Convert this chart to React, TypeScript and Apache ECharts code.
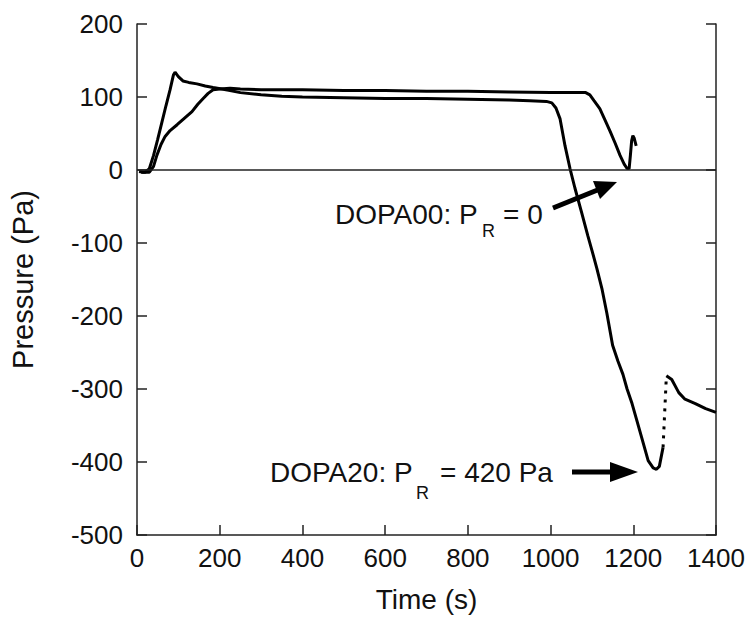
import React, { useEffect, useRef } from "react";
import * as echarts from "echarts";

// DOPA00 (P_R = 0)
const dopa00Time = [5, 15, 30, 40, 48, 58, 68, 80, 97, 115, 133, 147, 160, 172, 184, 200, 225, 250, 300, 400, 500, 600, 700, 800, 900, 1000, 1050, 1085, 1095, 1105, 1119, 1132, 1144, 1156, 1168, 1178, 1185, 1190, 1193, 1196, 1199, 1202, 1207];
const dopa00Values = [-2, -3, -3, 5, 20, 35, 46, 54, 62, 71, 80, 90, 98, 105, 110, 111, 112, 111, 110, 110, 109, 109, 108, 108, 107, 106, 106, 106, 103, 95, 84, 68, 53, 37, 20, 8, 2, 2, 20, 40, 47, 44, 33];

// DOPA20 (P_R = 420 Pa), before the jump
const dopa20Time = [10, 20, 30, 40, 50, 60, 70, 80, 88, 92, 100, 111, 125, 145, 165, 184, 205, 225, 250, 300, 350, 400, 500, 600, 700, 800, 900, 950, 990, 1003, 1013, 1023, 1035, 1047, 1059, 1075, 1090, 1100, 1112, 1124, 1136, 1150, 1163, 1175, 1185, 1197, 1207, 1220, 1236, 1248, 1256, 1263, 1272];
const dopa20Values = [-3, -3, 2, 20, 42, 65, 88, 110, 130, 134, 128, 122, 120, 118, 115, 113, 111, 109, 106, 103, 101, 100, 99, 98, 98, 97, 96, 95, 94, 92, 85, 70, 33, 2, -25, -58, -90, -110, -135, -162, -196, -240, -262, -280, -300, -320, -340, -366, -398, -408, -410, -406, -380];

// DOPA20 jump (dotted) and recovery
const dopa20JumpTime = [1272, 1280];
const dopa20JumpValues = [-380, -282];
const dopa20TailTime = [1280, 1293, 1310, 1325, 1350, 1375, 1400];
const dopa20TailValues = [-282, -287, -305, -314, -320, -327, -332];

const xTicks = { min: 0, max: 1400, interval: 200 };
const yTicks = { min: -500, max: 200, interval: 100 };

const zip = (t: number[], v: number[]) => t.map((x, i) => [x, v[i]]);

const FONT = "'Liberation Sans', Arial, Helvetica, sans-serif";

export default function App() {
  const ref = useRef<HTMLDivElement>(null);
  useEffect(() => {
    if (!ref.current) return;
    const chart = echarts.init(ref.current, null, { renderer: "svg" });
    const lineStyle = { color: "#000", width: 3 };
    const axisCommon = {
      axisLine: { show: true, onZero: false, lineStyle: { color: "#222", width: 1.5 } },
      axisTick: { show: true, inside: true, length: 10, lineStyle: { color: "#222", width: 1.5 } },
      splitLine: { show: false },
    };
    const mainText = { fontFamily: FONT, fontSize: 28, fill: "#111", verticalAlign: "bottom" };
    const subText = { fontFamily: FONT, fontSize: 18, fill: "#111", verticalAlign: "bottom" };
    chart.setOption({
      animation: false,
      backgroundColor: "#fff",
      grid: { left: 137, right: 34, top: 24, bottom: 80, containLabel: false },
      xAxis: {
        type: "value",
        ...xTicks,
        ...axisCommon,
        axisLabel: { color: "#111", fontSize: 26, fontFamily: FONT, margin: 10, formatter: (v: number) => String(v) },
        name: "Time (s)",
        nameLocation: "middle",
        nameGap: 50,
        nameTextStyle: { color: "#111", fontSize: 28, fontFamily: FONT },
      },
      yAxis: [
        {
          type: "value",
          ...yTicks,
          ...axisCommon,
          axisLabel: { color: "#111", fontSize: 26, fontFamily: FONT, margin: 14, formatter: (v: number) => String(v) },
          name: "Pressure (Pa)",
          nameLocation: "middle",
          nameGap: 100,
          nameTextStyle: { color: "#111", fontSize: 29, fontFamily: FONT },
        },
        {
          type: "value",
          position: "right",
          ...yTicks,
          ...axisCommon,
          axisLabel: { show: false },
        },
      ],
      series: [
        {
          name: "DOPA00",
          type: "line",
          data: zip(dopa00Time, dopa00Values),
          showSymbol: false,
          lineStyle,
          itemStyle: { color: "#000" },
          markLine: {
            silent: true,
            symbol: ["none", "none"],
            label: { show: false },
            lineStyle: { color: "#222", width: 1.5, type: "solid" },
            data: [{ yAxis: 0 }],
          },
        },
        {
          name: "DOPA20",
          type: "line",
          data: zip(dopa20Time, dopa20Values),
          showSymbol: false,
          lineStyle,
          itemStyle: { color: "#000" },
        },
        {
          name: "DOPA20 jump",
          type: "line",
          data: zip(dopa20JumpTime, dopa20JumpValues),
          showSymbol: false,
          lineStyle: { color: "#000", width: 3, type: [3, 6] },
        },
        {
          name: "DOPA20 tail",
          type: "line",
          data: zip(dopa20TailTime, dopa20TailValues),
          showSymbol: false,
          lineStyle,
        },
      ],
      graphic: [
        { type: "text", x: 335, y: 228, style: { ...mainText, text: "DOPA00: P" } as any },
        { type: "text", x: 482, y: 240, style: { ...subText, text: "R" } as any },
        { type: "text", x: 503, y: 228, style: { ...mainText, text: "= 0" } as any },
        { type: "line", shape: { x1: 553, y1: 208, x2: 600, y2: 189 }, style: { stroke: "#000", lineWidth: 5 } },
        { type: "polygon", shape: { points: [[617, 182], [600, 199], [593, 181]] }, style: { fill: "#000" } },

        { type: "text", x: 270, y: 486, style: { ...mainText, text: "DOPA20: P" } as any },
        { type: "text", x: 416, y: 502, style: { ...subText, text: "R" } as any },
        { type: "text", x: 440, y: 486, style: { ...mainText, text: "= 420 Pa" } as any },
        { type: "line", shape: { x1: 572, y1: 472, x2: 614, y2: 472 }, style: { stroke: "#000", lineWidth: 5 } },
        { type: "polygon", shape: { points: [[638, 472], [610, 462], [610, 482]] }, style: { fill: "#000" } },
      ],
    });
    return () => chart.dispose();
  }, []);
  return <div ref={ref} style={{ width: 750, height: 618, position: "absolute", left: 0, top: 0 }} />;
}
